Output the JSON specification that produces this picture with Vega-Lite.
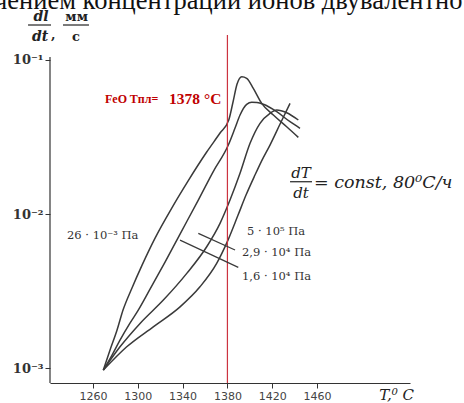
{
  "$schema": "https://vega.github.io/schema/vega-lite/v6.json",
  "autosize": {"type": "none"},
  "width": 360,
  "height": 348,
  "padding": {"left": 50, "top": 35, "right": 54, "bottom": 20},
  "background": "white",
  "config": {"view": {"stroke": null}},
  "layer": [
    {
      "data": {"values": [
        {"s": "c1", "T": 1269.2, "v": 0.00097}, {"s": "c1", "T": 1275.2, "v": 0.00131}, {"s": "c1", "T": 1281.4, "v": 0.00176}, {"s": "c1", "T": 1286.8, "v": 0.00238}, {"s": "c1", "T": 1294.8, "v": 0.00331}, {"s": "c1", "T": 1303.8, "v": 0.00466}, {"s": "c1", "T": 1315.4, "v": 0.00698}, {"s": "c1", "T": 1330.3, "v": 0.01093}, {"s": "c1", "T": 1344.8, "v": 0.01636}, {"s": "c1", "T": 1361.5, "v": 0.02526}, {"s": "c1", "T": 1373.4, "v": 0.03354}, {"s": "c1", "T": 1381.2, "v": 0.04075}, {"s": "c1", "T": 1385.0, "v": 0.05332}, {"s": "c1", "T": 1388.6, "v": 0.0698}, {"s": "c1", "T": 1392.8, "v": 0.07785}, {"s": "c1", "T": 1397.2, "v": 0.076}, {"s": "c1", "T": 1403.1, "v": 0.06545}, {"s": "c1", "T": 1410.6, "v": 0.0523}, {"s": "c1", "T": 1421.0, "v": 0.0439}, {"s": "c1", "T": 1432.9, "v": 0.03685}, {"s": "c1", "T": 1443.3, "v": 0.03145},
        {"s": "c2", "T": 1269.2, "v": 0.00097}, {"s": "c2", "T": 1277.0, "v": 0.001214}, {"s": "c2", "T": 1284.1, "v": 0.001519}, {"s": "c2", "T": 1293.0, "v": 0.001958}, {"s": "c2", "T": 1300.4, "v": 0.002378}, {"s": "c2", "T": 1310.9, "v": 0.003255}, {"s": "c2", "T": 1324.3, "v": 0.004875}, {"s": "c2", "T": 1337.7, "v": 0.00741}, {"s": "c2", "T": 1354.0, "v": 0.01232}, {"s": "c2", "T": 1367.1, "v": 0.01873}, {"s": "c2", "T": 1380.8, "v": 0.02803}, {"s": "c2", "T": 1386.8, "v": 0.03614}, {"s": "c2", "T": 1391.25, "v": 0.0439}, {"s": "c2", "T": 1397.2, "v": 0.05152}, {"s": "c2", "T": 1401.7, "v": 0.05309}, {"s": "c2", "T": 1406.4, "v": 0.0529}, {"s": "c2", "T": 1412.1, "v": 0.05152}, {"s": "c2", "T": 1424.0, "v": 0.04613}, {"s": "c2", "T": 1435.9, "v": 0.03972}, {"s": "c2", "T": 1444.8, "v": 0.03598},
        {"s": "c3", "T": 1269.2, "v": 0.00097}, {"s": "c3", "T": 1284.1, "v": 0.001374}, {"s": "c3", "T": 1302.0, "v": 0.00195}, {"s": "c3", "T": 1322.8, "v": 0.002762}, {"s": "c3", "T": 1343.7, "v": 0.004117}, {"s": "c3", "T": 1361.5, "v": 0.00613}, {"s": "c3", "T": 1373.4, "v": 0.0087}, {"s": "c3", "T": 1382.3, "v": 0.01232}, {"s": "c3", "T": 1391.25, "v": 0.01837}, {"s": "c3", "T": 1400.2, "v": 0.02876}, {"s": "c3", "T": 1409.1, "v": 0.03878}, {"s": "c3", "T": 1418.0, "v": 0.04504}, {"s": "c3", "T": 1424.0, "v": 0.04732}, {"s": "c3", "T": 1432.9, "v": 0.04545}, {"s": "c3", "T": 1443.3, "v": 0.04075},
        {"s": "c4", "T": 1269.2, "v": 0.00097}, {"s": "c4", "T": 1290.1, "v": 0.001374}, {"s": "c4", "T": 1313.8, "v": 0.001853}, {"s": "c4", "T": 1337.7, "v": 0.002498}, {"s": "c4", "T": 1355.5, "v": 0.00337}, {"s": "c4", "T": 1370.4, "v": 0.004781}, {"s": "c4", "T": 1380.5, "v": 0.00677}, {"s": "c4", "T": 1389.5, "v": 0.00984}, {"s": "c4", "T": 1396.6, "v": 0.01327}, {"s": "c4", "T": 1404.6, "v": 0.0179}, {"s": "c4", "T": 1410.9, "v": 0.0224}, {"s": "c4", "T": 1418.0, "v": 0.02803}, {"s": "c4", "T": 1427.0, "v": 0.03838}, {"s": "c4", "T": 1435.9, "v": 0.0523}
      ]},
      "mark": {"type": "line", "interpolate": "monotone", "color": "#3a3a3a", "strokeWidth": 1.5},
      "encoding": {
        "x": {"field": "T", "type": "quantitative", "scale": {"domain": [1221.6, 1543], "nice": false, "zero": false},
          "axis": {"title": null, "values": [1260, 1300, 1340, 1380, 1420, 1460], "format": "d", "grid": false, "domainColor": "#333", "tickColor": "#333", "tickSize": 5, "labelFont": "DejaVu Sans", "labelFontSize": 11, "labelColor": "#444", "labelPadding": 2, "labelFlush": false}},
        "y": {"field": "v", "type": "quantitative", "scale": {"type": "log", "domain": [0.0008, 0.1452], "nice": false},
          "axis": {"title": null, "values": [0.001, 0.01, 0.1], "grid": false, "domain": false, "tickColor": "#333", "tickSize": 5, "labelFont": "DejaVu Serif", "labelFontWeight": "bold", "labelFontSize": 13, "labelColor": "#333", "labelPadding": 2,
            "labelExpr": "datum.value > 0.05 ? '10⁻¹' : datum.value > 0.005 ? '10⁻²' : '10⁻³'"}},
        "detail": {"field": "s"}
      }
    },
    {
      "data": {"values": [{"T": 1380}]},
      "mark": {"type": "rule", "color": "#cc3340", "strokeWidth": 1.2},
      "encoding": {"x": {"field": "T", "type": "quantitative"}}
    },
    {
      "data": {"values": [{"T": 1221.6, "v": 0.0008, "v2": 0.1045}]},
      "mark": {"type": "rule", "color": "#333", "strokeWidth": 1.2},
      "encoding": {"x": {"field": "T", "type": "quantitative"}, "y": {"field": "v", "type": "quantitative"}, "y2": {"field": "v2"}}
    },
    {
      "data": {"values": [
        {"T": 1354.0, "v": 0.00749, "T2": 1386.8, "v2": 0.005834},
        {"T": 1337.7, "v": 0.00677, "T2": 1389.7, "v2": 0.004503}
      ]},
      "mark": {"type": "rule", "color": "#3a3a3a", "strokeWidth": 1.2},
      "encoding": {"x": {"field": "T", "type": "quantitative"}, "y": {"field": "v", "type": "quantitative"}, "x2": {"field": "T2"}, "y2": {"field": "v2"}}
    },
    {
      "data": {"values": [
        {"T": 1202.0, "T2": 1222.5, "v": 0.1686},
        {"T": 1233.2, "T2": 1256.4, "v": 0.1686},
        {"T": 1435.9, "T2": 1455.5, "v": 0.0162}
      ]},
      "mark": {"type": "rule", "color": "#222", "strokeWidth": 1.2},
      "encoding": {"x": {"field": "T", "type": "quantitative"}, "x2": {"field": "T2"}, "y": {"field": "v", "type": "quantitative"}}
    },
    {
      "data": {"values": [
        {"T": 1236.8, "v": 0.00719, "label": "26 · 10⁻³ Па"},
        {"T": 1397.5, "v": 0.00763, "label": "5 · 10⁵ Па"},
        {"T": 1393.0, "v": 0.005577, "label": "2,9 · 10⁴ Па"},
        {"T": 1393.0, "v": 0.003896, "label": "1,6 · 10⁴ Па"}
      ]},
      "mark": {"type": "text", "align": "left", "baseline": "middle", "font": "DejaVu Serif", "fontSize": 11.5, "color": "#333"},
      "encoding": {"x": {"field": "T", "type": "quantitative"}, "y": {"field": "v", "type": "quantitative"}, "text": {"field": "label"}}
    },
    {
      "data": {"values": [{"T": 1270.7, "v": 0.05577, "label": "FeO Tпл="}]},
      "mark": {"type": "text", "align": "left", "baseline": "middle", "font": "Liberation Serif", "fontWeight": "bold", "fontSize": 12, "color": "#c00000"},
      "encoding": {"x": {"field": "T", "type": "quantitative"}, "y": {"field": "v", "type": "quantitative"}, "text": {"field": "label"}}
    },
    {
      "data": {"values": [{"T": 1327.9, "v": 0.05577, "label": "1378 °C"}]},
      "mark": {"type": "text", "align": "left", "baseline": "middle", "font": "Liberation Serif", "fontWeight": "bold", "fontSize": 15.5, "color": "#c00000"},
      "encoding": {"x": {"field": "T", "type": "quantitative"}, "y": {"field": "v", "type": "quantitative"}, "text": {"field": "label"}}
    },
    {
      "data": {"values": [
        {"T": 1445.7, "v": 0.01845, "label": "dT"},
        {"T": 1445.7, "v": 0.01368, "label": "dt"}
      ]},
      "mark": {"type": "text", "align": "center", "baseline": "middle", "font": "DejaVu Serif", "fontStyle": "italic", "fontSize": 15, "color": "#222"},
      "encoding": {"x": {"field": "T", "type": "quantitative"}, "y": {"field": "v", "type": "quantitative"}, "text": {"field": "label"}}
    },
    {
      "data": {"values": [{"T": 1457.3, "v": 0.01589, "label": "= const, 80⁰C/ч"}]},
      "mark": {"type": "text", "align": "left", "baseline": "middle", "font": "DejaVu Serif", "fontStyle": "italic", "fontSize": 17.5, "color": "#222"},
      "encoding": {"x": {"field": "T", "type": "quantitative"}, "y": {"field": "v", "type": "quantitative"}, "text": {"field": "label"}}
    },
    {
      "data": {"values": [
        {"T": 1213.6, "v": 0.1909, "label": "dl"},
        {"T": 1212.7, "v": 0.1416, "label": "dt"}
      ]},
      "mark": {"type": "text", "align": "center", "baseline": "middle", "font": "DejaVu Serif", "fontStyle": "italic", "fontWeight": "bold", "fontSize": 14, "color": "#222"},
      "encoding": {"x": {"field": "T", "type": "quantitative"}, "y": {"field": "v", "type": "quantitative"}, "text": {"field": "label"}}
    },
    {
      "data": {"values": [
        {"T": 1245.4, "v": 0.1909, "label": "мм"},
        {"T": 1244.8, "v": 0.1416, "label": "с"},
        {"T": 1224.5, "v": 0.1452, "label": ","}
      ]},
      "mark": {"type": "text", "align": "center", "baseline": "middle", "font": "DejaVu Serif", "fontWeight": "bold", "fontSize": 13, "color": "#222"},
      "encoding": {"x": {"field": "T", "type": "quantitative"}, "y": {"field": "v", "type": "quantitative"}, "text": {"field": "label"}}
    },
    {
      "data": {"values": [{"T": 1515.5, "v": 0.000667, "label": "T,⁰ C"}]},
      "mark": {"type": "text", "align": "left", "baseline": "middle", "font": "DejaVu Serif", "fontStyle": "italic", "fontSize": 15, "color": "#222"},
      "encoding": {"x": {"field": "T", "type": "quantitative"}, "y": {"field": "v", "type": "quantitative"}, "text": {"field": "label"}}
    },
    {
      "data": {"values": [{"T": 1171.6, "v": 0.2142, "label": "чением концентрации ионов двувалентно"}]},
      "mark": {"type": "text", "align": "left", "baseline": "alphabetic", "font": "Liberation Serif", "fontSize": 26.5, "color": "#111"},
      "encoding": {"x": {"field": "T", "type": "quantitative"}, "y": {"field": "v", "type": "quantitative"}, "text": {"field": "label"}}
    }
  ]
}
